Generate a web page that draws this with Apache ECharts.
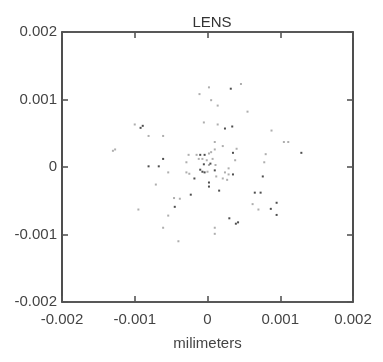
<!DOCTYPE html>
<html><head><meta charset="utf-8">
<script src="https://cdn.jsdelivr.net/npm/echarts@6/dist/echarts.min.js"></script>
<style>html,body{margin:0;padding:0;background:#fff}#c{width:383px;height:362px}</style>
</head><body><div id="c"></div>
<script>
var title = "LENS";
var xName = "milimeters";
var tickMin = -0.002, tickMax = 0.002, tickStep = 0.001;

var darkPoints = [
  [0.00032,0.00116],[0.00024,0.00057],[0.00034,0.00060],[-0.00092,0.00058],[-0.00089,0.00061],
  [0.00035,0.00021],[0.00129,0.00021],[-0.00061,0.00012],[-0.00067,0.00001],[-0.00081,0.00001],
  [-0.00005,0.00004],[-0.00010,0.00018],[-0.00004,0.00018],[0.00004,0.00005],[0.00010,-0.00005],
  [-0.00007,-0.00007],[-0.00004,-0.00008],[-0.00010,-0.00004],[-0.00018,-0.00017],[0.00002,-0.00023],
  [0.00002,-0.00029],[0.00016,-0.00035],[-0.00023,-0.00041],[0.00076,-0.00014],[0.00065,-0.00038],
  [0.00073,-0.00038],[-0.00045,-0.00059],[0.00035,-0.00011],[0.00042,-0.00082],[0.00039,-0.00084],
  [0.00030,-0.00076],[0.00095,-0.00053],[0.00087,-0.00062],[0.00095,-0.00071]
];
var lightPoints = [
  [-0.00011,0.00108],[0.00002,0.00118],[0.00046,0.00123],[0.00005,0.00099],[0.00014,0.00091],
  [0.00055,0.00082],[-0.00100,0.00063],[-0.00005,0.00066],[0.00014,0.00063],[0.00088,0.00054],
  [-0.00061,0.00046],[-0.00081,0.00046],[0.00010,0.00037],[0.00021,0.00031],[0.00040,0.00027],
  [0.00105,0.00037],[0.00111,0.00037],[-0.00127,0.00026],[-0.00130,0.00024],[0.00010,0.00026],
  [-0.00026,0.00018],[-0.00015,0.00018],[0.00002,0.00020],[0.00005,0.00022],[-0.00012,0.00012],
  [-0.00007,0.00012],[-0.00001,0.00010],[0.00007,0.00012],[0.00080,0.00019],[0.00038,0.00010],
  [-0.00029,0.00007],[0.00002,0.00003],[0.00011,0.00003],[0.00078,0.00007],[0.00000,-0.00007],
  [0.00024,-0.00008],[0.00029,-0.00011],[0.00029,-0.00002],[-0.00054,-0.00008],[-0.00029,-0.00008],
  [-0.00025,-0.00010],[0.00012,-0.00014],[0.00021,-0.00017],[0.00027,-0.00019],[-0.00071,-0.00026],
  [-0.00046,-0.00046],[-0.00038,-0.00047],[0.00062,-0.00055],[-0.00095,-0.00063],[0.00070,-0.00063],
  [-0.00054,-0.00072],[-0.00061,-0.00090],[0.00010,-0.00090],[0.00010,-0.00099],[-0.00040,-0.00110]
];

var chart = echarts.init(document.getElementById('c'), null, {renderer:'canvas'});
var font = 'Liberation Sans, Arial, sans-serif';
function mkAxis(show, pos, isX){
  return {
    type:'value', min:tickMin, max:tickMax, interval:tickStep, position:pos,
    axisLine:{show:true, onZero:false, lineStyle:{color:'#222', width:1.6}},
    axisTick:{show:true, inside:true, length:6, lineStyle:{color:'#555', width:1.6}},
    axisLabel:{show:show, color:'#444', fontSize:15, fontFamily:font, margin:isX?10:5},
    splitLine:{show:false}
  };
}
var x1 = mkAxis(true,'bottom',true);
x1.name = xName; x1.nameLocation='middle'; x1.nameGap=42;
x1.nameTextStyle = {color:'#444', fontSize:15, fontFamily:font, verticalAlign:'middle'};
var x2 = mkAxis(false,'top',true);
var y1 = mkAxis(true,'left',false);
var y2 = mkAxis(false,'right',false);

chart.setOption({
  animation:false,
  backgroundColor:'#fff',
  title:{text:title, left:207, top:10, textAlign:'center',
    textStyle:{color:'#333', fontSize:15, fontWeight:'normal', fontFamily:font}},
  grid:{left:62, top:32, width:291, height:270, containLabel:false},
  xAxis:[x1, x2],
  yAxis:[y1, y2],
  series:[
    {type:'scatter', data:lightPoints, symbol:'rect', symbolSize:2, itemStyle:{color:'#9a9a9a'}},
    {type:'scatter', data:darkPoints, symbol:'rect', symbolSize:2, itemStyle:{color:'#222'}}
  ]
});
</script></body></html>
